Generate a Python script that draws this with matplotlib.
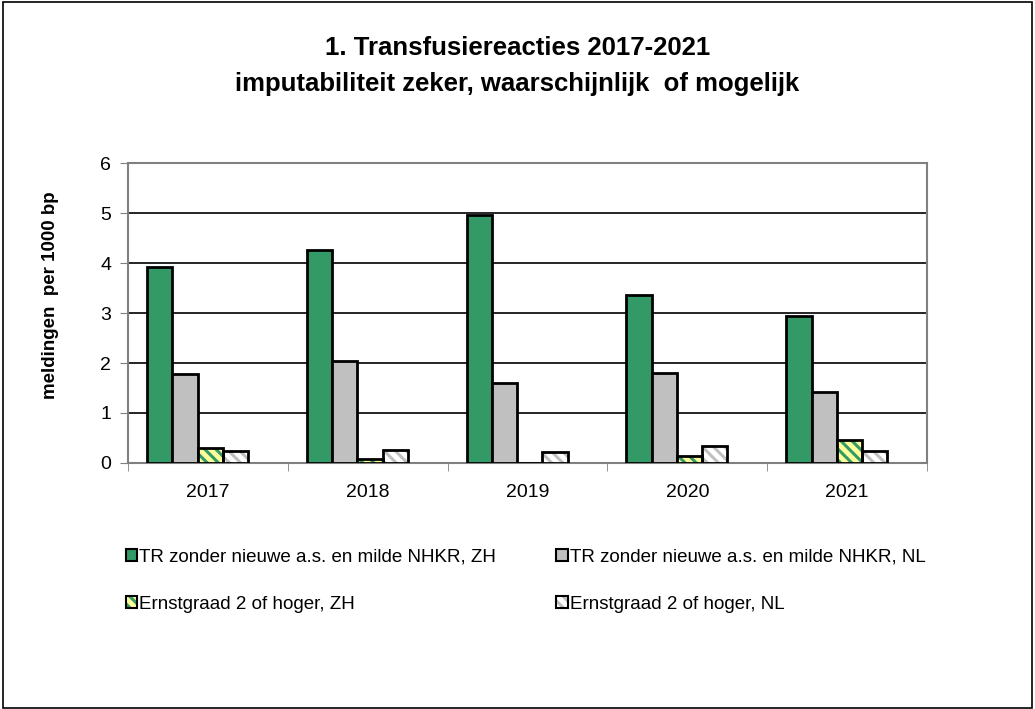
import numpy as np
import matplotlib
matplotlib.use("Agg")
from matplotlib import pyplot as plt
from matplotlib.patches import Rectangle
from matplotlib.legend_handler import HandlerTuple

plt.rcParams['font.family'] = ['Liberation Sans', 'DejaVu Sans']
plt.rcParams['hatch.linewidth'] = 2.2

years = ['2017', '2018', '2019', '2020', '2021']
tr_zh = [3.92, 4.26, 4.96, 3.36, 2.94]
tr_nl = [1.78, 2.04, 1.60, 1.81, 1.42]
ernst_zh = [0.30, 0.08, 0.0, 0.14, 0.45]
ernst_nl = [0.24, 0.26, 0.22, 0.33, 0.24]

labels = ['TR zonder nieuwe a.s. en milde NHKR, ZH',
          'TR zonder nieuwe a.s. en milde NHKR, NL',
          'Ernstgraad 2 of hoger, ZH',
          'Ernstgraad 2 of hoger, NL']

fig = plt.figure(figsize=(10.35, 7.09), dpi=100)
fig.patches.append(Rectangle((0.003, 0.001), 0.994, 0.996, transform=fig.transFigure,
                             fill=False, edgecolor='black', linewidth=1.2))
ax = fig.add_axes([0.1237, 0.347, 0.772, 0.423])

x = np.arange(len(years))
w = 0.158
shift = -0.065
styles = [
    dict(color='#339966', hatch=None),
    dict(color='#C0C0C0', hatch=None),
    dict(color='#FFFF99', hatch='\\\\\\', hcol='#339966'),
    dict(color='white', hatch='\\\\\\', hcol='#C0C0C0'),
]
series = [tr_zh, tr_nl, ernst_zh, ernst_nl]
handles = []
for i, (vals, st) in enumerate(zip(series, styles)):
    pos = x + shift + (i - 1.5) * w
    if st['hatch']:
        ax.bar(pos, vals, w, color=st['color'], edgecolor=st['hcol'],
               hatch=st['hatch'], linewidth=0, zorder=3)
        ax.bar(pos, vals, w, fill=False, edgecolor='black', linewidth=2, zorder=4)
        h = Rectangle((0, 0), 1, 1, facecolor=st['color'], edgecolor=st['hcol'],
                      hatch=st['hatch'], linewidth=0)
        hb = Rectangle((0, 0), 1, 1, fill=False, edgecolor='black', linewidth=1.5)
        handles.append((h, hb))
    else:
        ax.bar(pos, vals, w, color=st['color'], edgecolor='black', linewidth=2, zorder=3)
        handles.append(Rectangle((0, 0), 1, 1, facecolor=st['color'],
                                 edgecolor='black', linewidth=1.5))

ax.set_xlim(-0.5, len(years) - 0.5)
ax.set_ylim(0, 6)
ax.set_yticks(range(7))
ax.set_xticks(x)
ax.set_xticklabels(years, fontsize=14)
ax.set_xticks(np.arange(-0.5, len(years)), minor=True)
ax.tick_params(axis='x', which='major', length=0, pad=15)
ax.tick_params(axis='x', which='minor', length=6, color='#808080', direction='out')
ax.tick_params(axis='y', labelsize=14, length=6, color='#808080', direction='out', pad=6)
ax.yaxis.grid(True, color='black', linewidth=1.2, zorder=0)
ax.set_axisbelow(True)
for s in ax.spines.values():
    s.set_color('#808080')
    s.set_linewidth(1.5)
ax.set_ylabel('meldingen  per 1000 bp', fontsize=13.5, fontweight='bold')
ax.yaxis.set_label_coords(-0.086, 0.56)

fig.text(0.5, 0.932, '1. Transfusiereacties 2017-2021', ha='center', va='center',
         fontsize=18.5, fontweight='bold')
fig.text(0.5, 0.882, 'imputabiliteit zeker, waarschijnlijk  of mogelijk', ha='center',
         va='center', fontsize=18.5, fontweight='bold')

# legend fills column-wise, so order so rows read TR ZH | TR NL, Ernst ZH | Ernst NL
order = [0, 2, 1, 3]
leg = fig.legend([handles[k] for k in order], [labels[k] for k in order],
                 loc='upper left', bbox_to_anchor=(0.105, 0.25),
                 ncol=2, frameon=False, fontsize=13.5, handlelength=0.6, handleheight=0.6,
                 handletextpad=0.1, columnspacing=3.25, labelspacing=1.6,
                 handler_map={tuple: HandlerTuple(ndivide=1)})

fig.savefig('out.png', dpi=100)
